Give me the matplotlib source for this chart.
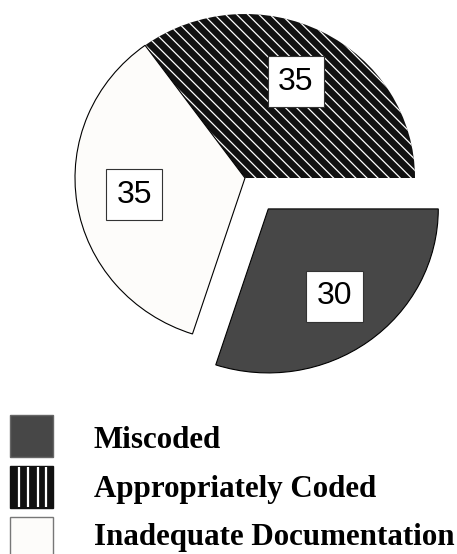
import matplotlib.pyplot as plt
from matplotlib.patches import Rectangle

# データ
categories = ['Miscoded', 'Appropriately Coded', 'Inadequate Documentation']
values = [30, 35, 35]
face_colors = ['#474747', '#111111', '#fdfcfa']
explode = [0.233, 0, 0]

plt.rcParams['hatch.linewidth'] = 0.9

fig = plt.figure(figsize=(4.57, 5.54), dpi=100)

# 円グラフ (上部)
ax = fig.add_axes([0, 174 / 554, 1, 380 / 554])
wedges, texts = ax.pie(values, explode=explode, colors=face_colors,
                       startangle=-108, counterclock=True,
                       labels=[str(v) for v in values], labeldistance=0.66,
                       wedgeprops=dict(edgecolor='black', linewidth=0.8),
                       textprops=dict(family='Liberation Sans', fontsize=23,
                                      ha='center', va='center'))
# 網掛け (白い斜線)
wedges[1].set_edgecolor('white')
wedges[1].set_linewidth(0)
wedges[1].set_hatch('\\\\\\')
for t in texts:
    t.set_bbox(dict(boxstyle='square,pad=0.33', facecolor='white',
                    edgecolor='#333333', linewidth=0.8))
ax.set_xlim(-245 / 170, 212 / 170)
ax.set_ylim(-202 / 164, 178 / 164)
ax.set_aspect('auto')
ax.axis('off')

# 凡例 (下部)
lax = fig.add_axes([0, 0, 1, 174 / 554])
lax.set_xlim(0, 457)
lax.set_ylim(174, 0)
lax.axis('off')
legend_edge = ['#666666', '#111111', '#777777']
for i, name in enumerate(categories):
    top = 35 + i * 51
    lax.add_patch(Rectangle((10, top), 43, 42, facecolor=face_colors[i],
                            edgecolor=legend_edge[i], linewidth=1))
    if i == 1:
        # 縦縞
        lax.vlines([10 + 43 * k / 4.5 for k in (0.9, 1.9, 2.9, 3.8)],
                   top + 1, top + 41, color='white', linewidth=1.6)
    lax.text(94, 68 + i * 48.5, name, family='Liberation Serif',
             fontweight='bold', fontsize=22.3, va='baseline', ha='left')

fig.savefig('out.png', dpi=100)
